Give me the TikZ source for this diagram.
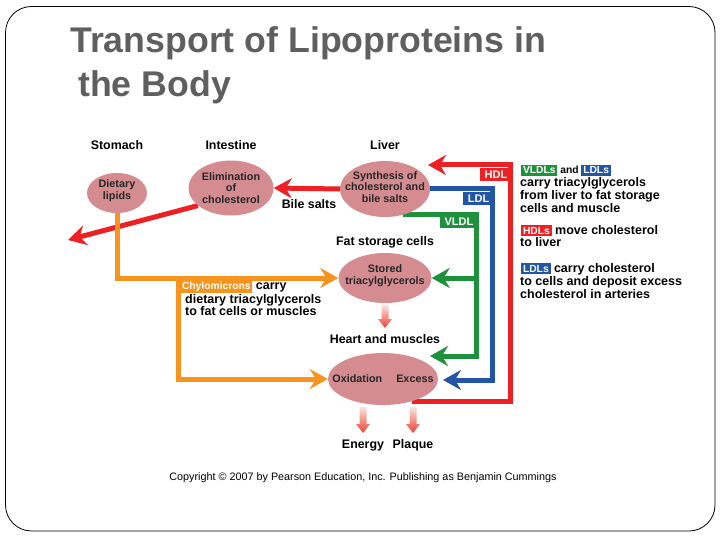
\documentclass[tikz,border=0pt]{standalone}
\usepackage{fontspec}
\setmainfont{Liberation Sans}
\usetikzlibrary{arrows.meta,shapes.geometric,calc}
\definecolor{lpred}{RGB}{237,32,36}
\definecolor{lpblue}{RGB}{35,85,165}
\definecolor{lpgreen}{RGB}{30,145,60}
\definecolor{lporange}{RGB}{247,148,29}
\definecolor{lppink}{RGB}{212,140,145}
\definecolor{lpgray}{RGB}{95,95,95}
\definecolor{lpgradtop}{RGB}{252,228,222}
\definecolor{lpgradbot}{RGB}{238,65,50}
\pgfdeclarelayer{bg}
\pgfsetlayers{bg,main}
\newcommand\lptag[2]{{\setlength{\fboxsep}{1.8pt}\colorbox{#1}{\textcolor{white}{#2}}}}
\newcommand\lpgrad[3]{\shade[top color=lpgradtop, bottom color=lpgradbot] (#1-3.5,#2) -- (#1+3.5,#2) -- (#1+3.5,#3-9) -- (#1+7,#3-9) -- (#1,#3) -- (#1-7,#3-9) -- (#1-3.5,#3-9) -- cycle;}
\begin{document}
\begin{tikzpicture}[x=1pt,y=-1pt,
  blob/.style={ellipse, fill=lppink, inner sep=0pt},
  blobtxt/.style={inner sep=0pt, align=center, font=\fontsize{10.8}{11.8}\selectfont\bfseries, text=black!85},
  lbl/.style={font=\fontsize{12.4}{13}\selectfont\bfseries, inner sep=0pt, anchor=base},
  leg/.style={font=\fontsize{12.5}{13}\selectfont\bfseries, inner sep=0pt, anchor=base west},
  flow/.style={line width=5pt, -{Stealth[length=18pt,width=20pt,inset=6pt]}},
  tab/.style={inner xsep=5pt, inner ysep=0pt, minimum height=13.5pt, text=white, font=\fontsize{11}{11}\selectfont\bfseries, anchor=north east},
]
\useasboundingbox (0,0) rectangle (720,540);
\draw[rounded corners=26pt, line width=0.8pt] (5.5,6.5) rectangle (715,531);

% title
\node[anchor=base west, inner sep=0pt, font=\fontsize{35.7}{36}\selectfont\bfseries, text=lpgray] (t1) at (70,53) {Transport of Lipoproteins in};
\node[anchor=base west, inner sep=0pt, font=\fontsize{35.7}{36}\selectfont\bfseries, text=lpgray] (t2) at (78,97) {the Body};

% headers
\node[lbl] (hstom) at (117,150) {Stomach};
\node[lbl] (hint) at (231,150) {Intestine};
\node[lbl] (hliv) at (385,150) {Liver};

% ellipses
\node[blob, minimum width=60pt, minimum height=40pt] (diet) at (117,193) {};
\node[blobtxt] (diett) at (117,191) {Dietary\\lipids};
\node[blob, minimum width=85pt, minimum height=55pt] (elim) at (231,188) {};
\node[blobtxt] (elimt) at (231,188) {Elimination\\of\\cholesterol};
\node[blob, minimum width=90pt, minimum height=56pt] (synth) at (385,189) {};
\node[blobtxt] (syntht) at (385,187) {Synthesis of\\cholesterol and\\bile salts};
\node[blob, minimum width=93pt, minimum height=50pt] (stored) at (385,278) {};
\node[blobtxt] (storedt) at (385,276) {Stored\\triacylglycerols};
\node[blob, minimum width=110pt, minimum height=52pt] (oxid) at (383,379) {};
\node[blobtxt] (oxidt) at (383,379) {Oxidation\hspace{14pt}Excess};

% other labels
\node[lbl] (bile) at (309,208) {Bile salts};
\node[lbl] (fat) at (385,245) {Fat storage cells};
\node[lbl] (heart) at (385,343) {Heart and muscles};
\node[lbl] (energy) at (363,448) {Energy};
\node[lbl] (plaque) at (413,448) {Plaque};

% coordinates
\coordinate (outl) at (68,240);
\coordinate (chybr) at (178,278);
\coordinate (hdlc) at (510,165);
\coordinate (hdltip) at (428,165);
\coordinate (ldlc) at (492,380);
\coordinate (ldltip) at (443,380);
\coordinate (vldlc) at (476,356);
\coordinate (vldltip) at (430,356);
\coordinate (vldlbr) at (476,278);

\begin{pgfonlayer}{bg}
\draw[flow, lpred] (synth.west) -- (elim.east);
\draw[flow, lpred] (elim.208) -- (outl);
\draw[flow, lporange] (diet.south) |- (stored.west);
\draw[flow, lporange] (chybr) |- (oxid.west);
\draw[flow, lpred] (oxid.-38) -| (hdlc) -- (hdltip);
\draw[flow, lpblue] (synth.east) -| (ldlc) -- (ldltip);
\draw[flow, lpgreen] (synth.-55) -| (vldlc) -- (vldltip);
\draw[flow, lpgreen] (vldlbr) -- (stored.east);
\end{pgfonlayer}

% tabs
\node[tab, fill=lpred] (hdltab) at (512.5,167.5) {HDL};
\node[tab, fill=lpblue] (ldltab) at (494.5,191.5) {LDL};
\node[tab, fill=lpgreen] (vldltab) at (478.5,214.5) {VLDL};

% gradient arrows
\lpgrad{385}{305}{328}
\lpgrad{363}{407}{433}
\lpgrad{413}{407}{433}

% chylomicrons text
\node[leg] (chy1) at (180,289) {{\fontsize{10.3}{11}\selectfont\lptag{lporange}{Chylomicrons}} carry};
\node[leg] (chy2) at (185,303) {dietary triacylglycerols};
\node[leg] (chy3) at (185,315) {to fat cells or muscles};

% legend
\node[leg] (lg1) at (521,174) {{\fontsize{10.3}{11}\selectfont\lptag{lpgreen}{VLDLs} and \lptag{lpblue}{LDLs}}};
\node[leg] (lg2) at (520,187) {carry triacylglycerols};
\node[leg] (lg3) at (520,200) {from liver to fat storage};
\node[leg] (lg4) at (520,213) {cells and muscle};
\node[leg] (lg5) at (521,234) {{\fontsize{10.3}{11}\selectfont\lptag{lpred}{HDLs}} move cholesterol};
\node[leg] (lg6) at (520,247) {to liver};
\node[leg] (lg7) at (521,272) {{\fontsize{10.3}{11}\selectfont\lptag{lpblue}{LDLs}} carry cholesterol};
\node[leg] (lg8) at (520,285) {to cells and deposit excess};
\node[leg] (lg9) at (520,298) {cholesterol in arteries};

% copyright
\node[anchor=base, inner sep=0pt, font=\fontsize{10.8}{11}\selectfont] (copy) at (363,480) {Copyright © 2007 by Pearson Education, Inc. Publishing as Benjamin Cummings};
\end{tikzpicture}
\end{document}
